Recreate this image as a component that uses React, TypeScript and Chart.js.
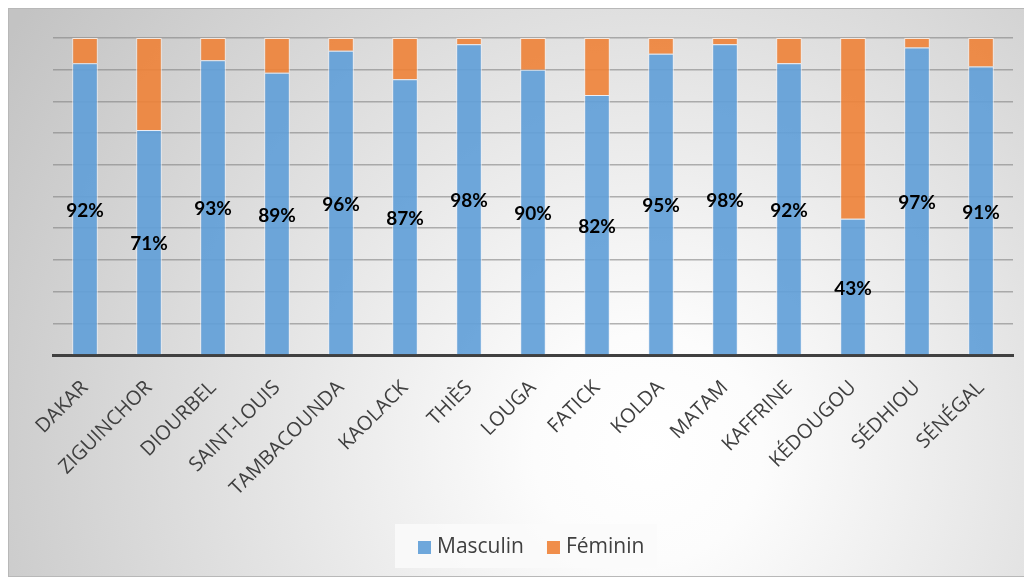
import React, { useEffect, useRef } from "react";
import { Chart, registerables } from "chart.js";

Chart.register(...registerables);

const categories = [
  "DAKAR", "ZIGUINCHOR", "DIOURBEL", "SAINT-LOUIS", "TAMBACOUNDA", "KAOLACK", "THIÈS",
  "LOUGA", "FATICK", "KOLDA", "MATAM", "KAFFRINE", "KÉDOUGOU", "SÉDHIOU", "SÉNÉGAL",
];
const masculin = [92, 71, 93, 89, 96, 87, 98, 90, 82, 95, 98, 92, 43, 97, 91];
const feminin = [8, 29, 7, 11, 4, 13, 2, 10, 18, 5, 2, 8, 57, 3, 9];
const seriesNames = ["Masculin", "Féminin"];
const yTicks = [0, 10, 20, 30, 40, 50, 60, 70, 80, 90, 100];

const BLUE = "rgba(98,160,216,0.92)";
const ORANGE = "rgba(238,130,55,0.9)";

const bgPlugin = {
  id: "bgPlugin",
  beforeDraw(chart: any) {
    const { ctx, width, height } = chart;
    ctx.save();
    const g = ctx.createRadialGradient(640, 440, 0, 640, 440, 760);
    g.addColorStop(0, "#ffffff");
    g.addColorStop(0.15, "#fcfcfc");
    g.addColorStop(1, "#c3c3c3");
    ctx.fillStyle = g;
    ctx.fillRect(0, 0, width, height);
    ctx.strokeStyle = "#b8b8b8";
    ctx.lineWidth = 1;
    ctx.strokeRect(0.5, 0.5, width - 1, height - 1);
    ctx.restore();
  },
};

const labelPlugin = {
  id: "labelPlugin",
  afterDatasetsDraw(chart: any) {
    const { ctx } = chart;
    const meta = chart.getDatasetMeta(0);
    ctx.save();
    ctx.font = "bold 19px Lato, 'Open Sans', sans-serif";
    ctx.fillStyle = "#000000";
    ctx.textAlign = "center";
    ctx.textBaseline = "middle";
    meta.data.forEach((el: any, i: number) => {
      const cy = (el.y + el.base) / 2 + 2;
      ctx.fillText(masculin[i] + "%", el.x, cy);
    });
    ctx.restore();
  },
};

const legendPlugin = {
  id: "legendPlugin",
  afterDraw(chart: any) {
    const { ctx } = chart;
    ctx.save();
    ctx.fillStyle = "rgba(250,250,250,0.85)";
    ctx.fillRect(387, 516, 262, 44);
    ctx.font = "21px 'Open Sans', sans-serif";
    ctx.textBaseline = "middle";
    const colors = [BLUE, ORANGE];
    let x = 410;
    seriesNames.forEach((name, i) => {
      ctx.fillStyle = colors[i];
      ctx.fillRect(x, 533, 13, 13);
      ctx.fillStyle = "#404040";
      ctx.fillText(name, x + 19, 539);
      x += 19 + ctx.measureText(name).width + 23;
    });
    ctx.restore();
  },
};

export default function App() {
  const ref = useRef<HTMLCanvasElement>(null);
  useEffect(() => {
    if (!ref.current) return;
    const chart = new Chart(ref.current, {
      type: "bar",
      data: {
        labels: categories,
        datasets: [
          {
            label: seriesNames[0],
            data: masculin,
            backgroundColor: BLUE,
            borderColor: "rgba(235,240,248,0.9)",
            borderWidth: 1,
            barPercentage: 0.4,
            categoryPercentage: 1,
          },
          {
            label: seriesNames[1],
            data: feminin,
            backgroundColor: ORANGE,
            borderColor: "rgba(250,235,225,0.9)",
            borderWidth: 1,
            barPercentage: 0.4,
            categoryPercentage: 1,
          },
        ],
      },
      options: {
        responsive: false,
        animation: false,
        devicePixelRatio: 1,
        layout: { padding: { left: 45, right: 19, top: 30, bottom: 0 } },
        plugins: { legend: { display: false }, tooltip: { enabled: false } },
        scales: {
          x: {
            stacked: true,
            grid: { display: false },
            border: { display: true, color: "#404040", width: 3 },
            ticks: {
              maxRotation: 45,
              minRotation: 45,
              padding: 13,
              color: "#404040",
              font: { family: "'Open Sans', sans-serif", size: 20 },
            },
            afterFit: (s: any) => {
              s.height = 222;
            },
          },
          y: {
            stacked: true,
            min: 0,
            max: 100,
            afterBuildTicks: (s: any) => {
              s.ticks = yTicks.map((v) => ({ value: v }));
            },
            ticks: { display: false },
            grid: { color: "rgba(130,130,130,0.6)", lineWidth: 1.5, drawTicks: false },
            border: { display: false },
            afterFit: (s: any) => {
              s.width = 0;
            },
          },
        },
      },
      plugins: [bgPlugin, labelPlugin, legendPlugin],
    });
    return () => chart.destroy();
  }, []);
  return (
    <div>
      <canvas ref={ref} width={1024} height={569} style={{ display: "block" }} />
    </div>
  );
}
